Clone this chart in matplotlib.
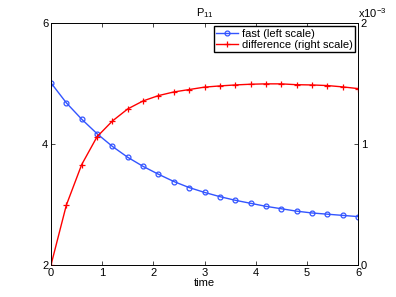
import matplotlib
matplotlib.use("Agg")
import matplotlib.pyplot as plt
from matplotlib.ticker import FuncFormatter

plt.rcParams["font.family"] = ["Liberation Sans", "DejaVu Sans"]
plt.rcParams["mathtext.fontset"] = "custom"
plt.rcParams["mathtext.rm"] = "Liberation Sans"
plt.rcParams["mathtext.it"] = "Liberation Sans"

time = [0.0, 0.3, 0.6, 0.9, 1.2, 1.5, 1.8, 2.1, 2.4, 2.7, 3.0,
        3.3, 3.6, 3.9, 4.2, 4.5, 4.8, 5.1, 5.4, 5.7, 6.0]
fast = [5.01, 4.68, 4.41, 4.17, 3.96, 3.78, 3.63, 3.50, 3.38, 3.28, 3.20,
        3.13, 3.07, 3.02, 2.97, 2.93, 2.89, 2.86, 2.84, 2.82, 2.80]
difference = [0.0, 0.495e-3, 0.83e-3, 1.06e-3, 1.19e-3, 1.29e-3, 1.356e-3,
              1.40e-3, 1.43e-3, 1.45e-3, 1.47e-3, 1.48e-3, 1.488e-3,
              1.494e-3, 1.497e-3, 1.497e-3, 1.49e-3, 1.488e-3, 1.483e-3,
              1.472e-3, 1.458e-3]

fig = plt.figure(figsize=(3.96, 2.97), dpi=100)
ax = fig.add_axes([51 / 396, 1 - 265 / 297, 307 / 396, 242 / 297])
ax2 = ax.twinx()

l1, = ax.plot(time, fast, color="#3355ff", lw=1.0, marker="o", ms=3.5,
              mfc="none", mew=0.9, label="fast (left scale)")
l2, = ax2.plot(time, difference, color="#ff0000", lw=1.0, marker="+", ms=4,
               mew=0.9, label="difference (right scale)")

ax.set_xlim(0, 6)
ax.set_ylim(2, 6)
ax.set_yticks([2, 4, 6])
ax.set_xticks(range(7))
ax2.set_ylim(0, 2e-3)
ax2.set_yticks([0, 1e-3, 2e-3])
ax2.yaxis.set_major_formatter(FuncFormatter(lambda v, p: f"{v * 1e3:g}"))

for a in (ax, ax2):
    a.tick_params(direction="in", labelsize=8, length=3, width=0.5, pad=2)
    for s in a.spines.values():
        s.set_linewidth(0.6)
ax.tick_params(top=True)

ax.set_xlabel("time", fontsize=8, labelpad=0)
ax.set_title(r"P$_{11}$", fontsize=8, pad=5)
# offset label of the right scale, as MATLAB draws it
fig.text(358 / 396, 1 - 13 / 297, r"x$10^{-3}$", fontsize=8, ha="left",
         va="center")

ax.legend(handles=[l1, l2], loc="upper right", fontsize=8, frameon=True,
          fancybox=False, edgecolor="black", framealpha=1, borderpad=0.2,
          handlelength=2.0, handletextpad=0.3, labelspacing=0.1,
          borderaxespad=0.3)

fig.savefig("out.png", dpi=100)
